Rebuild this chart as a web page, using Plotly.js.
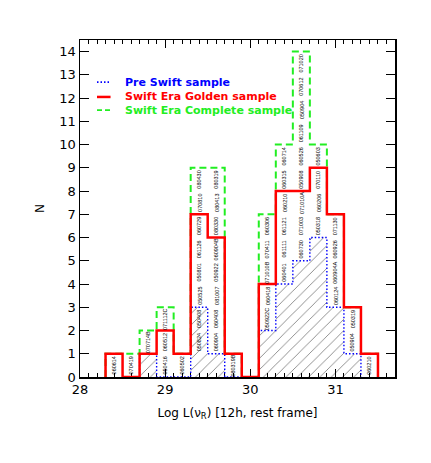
<!DOCTYPE html>
<html>
<head>
<meta charset="utf-8">
<script src="https://cdn.plot.ly/plotly-3.0.1.min.js"></script>
<style>
  body { margin: 0; background: #fff; }
  #histPlot { width: 431px; height: 463px; }
</style>
</head>
<body>
<div id="histPlot"></div>
<script>
// bins of Log L(nu_R) at 12h rest frame, width 0.2
var binCenters = [28.4, 28.6, 28.8, 29.0, 29.2, 29.4, 29.6, 29.8, 30.0, 30.2, 30.4, 30.6, 30.8, 31.0, 31.2, 31.4];
var binWidth = 0.2;

// counts per bin
var preSwift = [0, 0, 1, 0, 0, 3, 1, 0, 0, 2, 4, 5, 6, 3, 1, 0];
var golden   = [1, 0, 1, 2, 1, 7, 6, 1, 0, 4, 8, 8, 9, 7, 3, 1];
var complete = [1, 1, 2, 3, 1, 9, 9, 1, 0, 7, 10, 14, 10, 7, 3, 1];

// GRB names written in each bin, stacked upward from labelFrom
var labelFrom = [0, 0, 1, 0, 0, 1, 1, 0, 0, 2, 4, 5, 6, 3, 1, 0];
var grbNames = [
  ['060614'],
  ['070419'],
  ['070714B'],
  ['050416', '060512', '071112C'],
  ['060502'],
  ['050824', '050408', '050525', '050801', '061126', '060729', '070810', '080430'],
  ['060904', '060408', '081007', '050922', '060904B', '080330', '080413', '080319'],
  ['080319B'],
  [],
  ['050922C', '060418', '071010B', '070411', '060306'],
  ['060401', '061111', '061121', '060210', '060315', '060714'],
  ['060730', '071003', '071010A', '050908', '060526', '061109', '050904', '070612', '071020'],
  ['050318', '060206', '070110', '050603'],
  ['060124', '060904A', '060926', '071130'],
  ['050904', '050319'],
  ['060210']
];

// legend entries
var legendNames = ['Pre Swift sample', 'Swift Era Golden sample', 'Swift Era Complete sample'];
var legendColors = ['#0000ff', '#ff0000', '#22ee22'];
var legendDash = ['1.5px,2px', 'solid', '5px,3px'];

// outline of a step histogram, leading/trailing empty bins dropped
function stepLine(counts) {
  var first = 0, last = counts.length - 1;
  while (counts[first] === 0) first++;
  while (counts[last] === 0) last--;
  var xs = [binCenters[first] - binWidth / 2];
  var ys = [0];
  for (var i = first; i <= last; i++) {
    xs.push(binCenters[i] - binWidth / 2, binCenters[i] + binWidth / 2);
    ys.push(counts[i], counts[i]);
  }
  xs.push(binCenters[last] + binWidth / 2);
  ys.push(0);
  return {x: xs, y: ys};
}

var preStep = stepLine(preSwift);
var goldStep = stepLine(golden);
var compStep = stepLine(complete);

var hatchTrace = {
  type: 'bar',
  x: binCenters,
  y: preSwift,
  width: binWidth,
  showlegend: false,
  hoverinfo: 'skip',
  marker: {
    color: 'rgba(0,0,0,0)',
    line: {width: 0},
    pattern: {shape: '/', fgcolor: '#000', fgopacity: 0.6, bgcolor: 'rgba(0,0,0,0)', size: 8, solidity: 0.09}
  }
};

var preTrace = {
  type: 'scatter', mode: 'lines',
  x: preStep.x, y: preStep.y,
  showlegend: false,
  line: {color: legendColors[0], width: 1.4, dash: '1.5px,2px'}
};

var compTrace = {
  type: 'scatter', mode: 'lines',
  x: compStep.x, y: compStep.y,
  showlegend: false,
  line: {color: legendColors[2], width: 2, dash: '7px,4px'}
};

var goldTrace = {
  type: 'scatter', mode: 'lines',
  x: goldStep.x, y: goldStep.y,
  showlegend: false,
  line: {color: legendColors[1], width: 2.5}
};

var annotations = [];
grbNames.forEach(function(names, i) {
  names.forEach(function(name, j) {
    annotations.push({
      x: binCenters[i],
      y: labelFrom[i] + j + 0.5,
      text: name,
      textangle: -90,
      showarrow: false,
      font: {family: 'Liberation Sans', size: 5.5, color: '#000'}
    });
  });
});

// hand-made legend, tighter than plotly's own
var shapes = [];
var legendY = [0.875, 0.831, 0.792];
legendNames.forEach(function(name, k) {
  shapes.push({
    type: 'line', xref: 'paper', yref: 'paper',
    x0: 0.054, x1: 0.097, y0: legendY[k], y1: legendY[k],
    line: {color: legendColors[k], width: k === 1 ? 2.5 : 1.6, dash: legendDash[k]}
  });
  annotations.push({
    xref: 'paper', yref: 'paper',
    x: 0.135, y: legendY[k], xanchor: 'left', yanchor: 'middle',
    text: '<b>' + name + '</b>',
    showarrow: false,
    font: {family: 'DejaVu Sans', size: 11, color: legendColors[k]}
  });
});

var axisFont = {family: 'DejaVu Sans', size: 13, color: '#000'};

var layout = {
  width: 431,
  height: 463,
  margin: {l: 80, r: 36, t: 40, b: 86},
  paper_bgcolor: '#fff',
  plot_bgcolor: '#fff',
  showlegend: false,
  barmode: 'overlay',
  xaxis: {
    range: [28, 31.7],
    dtick: 1,
    ticks: 'inside', ticklen: 8, tickwidth: 1, tickcolor: '#000',
    minor: {dtick: 0.1, ticks: 'inside', ticklen: 4, tickcolor: '#000'},
    showline: true, linecolor: '#000', linewidth: 1.5, mirror: 'ticks',
    showgrid: false, zeroline: false,
    layer: 'below traces',
    tickfont: axisFont,
    title: {text: 'Log L(\u03bd<sub>R</sub>) [12h, rest frame]', font: {family: 'DejaVu Sans', size: 12, color: '#000'}, standoff: 12}
  },
  yaxis: {
    range: [0, 14.5],
    dtick: 1,
    ticks: 'inside', ticklen: 9, tickwidth: 1, tickcolor: '#000',
    showline: true, linecolor: '#000', linewidth: 1.5, mirror: 'ticks',
    showgrid: false, zeroline: false,
    layer: 'below traces',
    tickfont: axisFont,
    title: {text: 'N', font: {family: 'DejaVu Sans', size: 12, color: '#000'}, standoff: 12}
  },
  shapes: shapes,
  annotations: annotations
};

Plotly.newPlot('histPlot', [hatchTrace, preTrace, compTrace, goldTrace], layout, {displayModeBar: false, staticPlot: true});
</script>
</body>
</html>
